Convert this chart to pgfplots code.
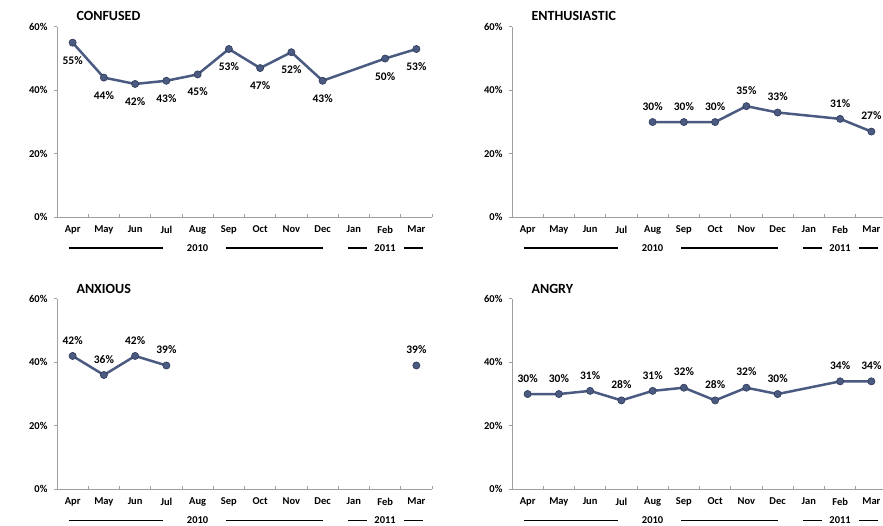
\documentclass[border=0pt]{standalone}
\usepackage{pgfplots}
\pgfplotsset{compat=1.18}
\usepackage{fontspec}
\setmainfont{Carlito}
\definecolor{ln}{HTML}{4A5A80}
\definecolor{lnd}{HTML}{2E3A5A}
\pgfplotsset{
  /pgf/number format/assume math mode=true,
  panel/.style={
    width=375pt, height=190.5pt, scale only axis,
    xmin=-0.5, xmax=11.5, ymin=0, ymax=60,
    axis x line=bottom, axis y line=left,
    axis line style={draw=gray!75, -, line width=0.7pt},
    clip=false,
    tick align=outside,
    xtick={0,...,11},
    xticklabels={Apr,May,Jun,Jul,Aug,Sep,Oct,Nov,Dec,Jan,Feb,Mar},
    major x tick style={draw=none},
    minor xtick={-0.5,0.5,...,11.5},
    minor tick length=3pt,
    minor x tick style={draw=gray!75, line width=0.7pt, yshift=3pt},
    major tick length=3pt,
    ytick={0,20,40,60},
    yticklabel={\pgfmathprintnumber{\tick}\%},
    major y tick style={draw=gray!75, line width=0.7pt},
    ticklabel style={font=\bfseries\fontsize{10.5}{11}\selectfont},
    xticklabel style={yshift=-2pt},
    yticklabel style={xshift=-3pt},
  },
  ser/.style={color=ln, line width=2.5pt, mark=*, mark size=3.6pt,
    mark options={fill=ln, draw=lnd, line width=0.6pt},
    nodes near coords={\pgfmathprintnumber{\pgfplotspointmeta}\%},
    every node near coord/.append style={font=\bfseries\fontsize{11.5}{12}\selectfont, text=black},
  },
  above/.style={every node near coord/.append style={anchor=south, yshift=8pt}},
  below/.style={every node near coord/.append style={anchor=north, yshift=-10pt}},
}
\newcommand{\years}[1]{%
  \draw[black, line width=#1] ([yshift=-31pt]axis cs:-0.13,0) -- ([yshift=-31pt]axis cs:2.9,0);
  \draw[black, line width=#1] ([yshift=-31pt]axis cs:4.92,0) -- ([yshift=-31pt]axis cs:8.0,0);
  \draw[black, line width=#1] ([yshift=-31pt]axis cs:8.8,0) -- ([yshift=-31pt]axis cs:9.42,0);
  \draw[black, line width=#1] ([yshift=-31pt]axis cs:10.6,0) -- ([yshift=-31pt]axis cs:11.22,0);
  \node[font=\bfseries\fontsize{10.5}{11}\selectfont] at ([yshift=-31pt]axis cs:4,0) {2010};
  \node[font=\bfseries\fontsize{10.5}{11}\selectfont] at ([yshift=-31pt]axis cs:10,0) {2011};
}
\begin{document}
\begin{tikzpicture}[x=1pt,y=1pt]
\useasboundingbox (0,0) rectangle (883,526);
% CONFUSED
\begin{axis}[panel, at={(57pt,308.7pt)}, anchor=south west]
\addplot[ser, below] coordinates {(0,55) (1,44) (2,42) (3,43) (4,45) (5,53) (6,47) (7,52) (8,43) (10,50) (11,53)};
\years{1.8pt}
\end{axis}
% ENTHUSIASTIC
\begin{axis}[panel, at={(512pt,308.7pt)}, anchor=south west]
\addplot[ser, above] coordinates {(4,30) (5,30) (6,30) (7,35) (8,33) (10,31) (11,27)};
\years{1.8pt}
\end{axis}
% ANXIOUS
\begin{axis}[panel, at={(57pt,36.7pt)}, anchor=south west]
\addplot[ser, above] coordinates {(0,42) (1,36) (2,42) (3,39)};
\addplot[ser, above] coordinates {(11,39)};
\years{1pt}
\end{axis}
% ANGRY
\begin{axis}[panel, at={(512pt,36.7pt)}, anchor=south west]
\addplot[ser, above] coordinates {(0,30) (1,30) (2,31) (3,28) (4,31) (5,32) (6,28) (7,32) (8,30) (10,34) (11,34)};
\years{1pt}
\end{axis}
\node[anchor=west, font=\bfseries\fontsize{14}{15}\selectfont] at (73,510) {CONFUSED};
\node[anchor=west, font=\bfseries\fontsize{14}{15}\selectfont] at (528,510) {ENTHUSIASTIC};
\node[anchor=west, font=\bfseries\fontsize{14}{15}\selectfont] at (73,237) {ANXIOUS};
\node[anchor=west, font=\bfseries\fontsize{14}{15}\selectfont] at (528,237) {ANGRY};
\end{tikzpicture}
\end{document}
